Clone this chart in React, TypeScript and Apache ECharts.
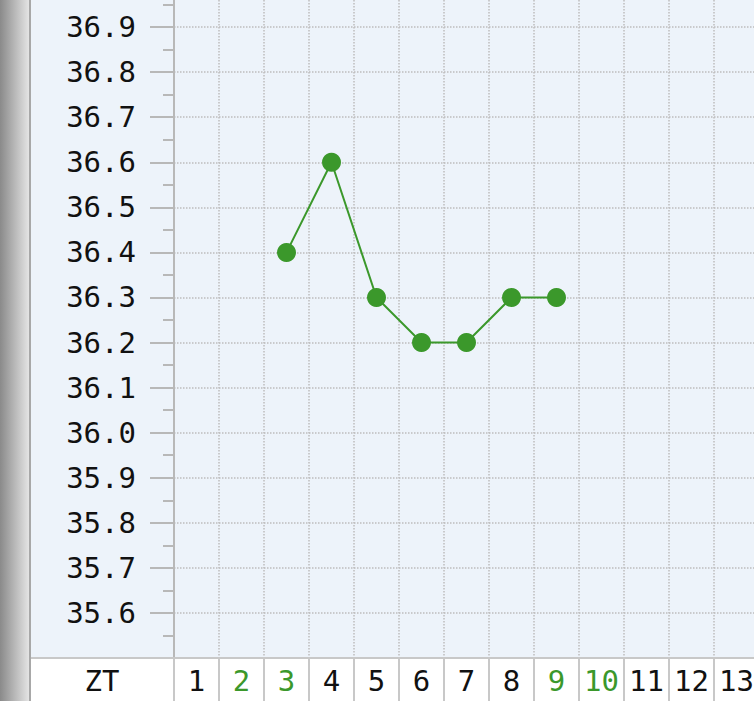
import React, { useEffect, useRef } from "react";
import * as echarts from "echarts";

const days = ["1", "2", "3", "4", "5", "6", "7", "8", "9", "10", "11", "12", "13", "14"];
const greenDays = ["2", "3", "9", "10"];
const temps: (number | null)[] = [null, null, 36.4, 36.6, 36.3, 36.2, 36.2, 36.3, 36.3, null, null, null, null, null];
const rowLabel = "ZT";

const FONT = "'DejaVu Sans Mono', monospace";
const GREEN = "#3b982b";
const OFF = 18; // chart canvas starts 18px above the page

export default function App() {
  const ref = useRef<HTMLDivElement>(null);
  useEffect(() => {
    if (!ref.current) return;
    const chart = echarts.init(ref.current, undefined, { renderer: "svg" });
    chart.setOption({
      animation: false,
      backgroundColor: "#edf3fa",
      grid: { left: 174, top: 0, width: 630, height: 676, containLabel: false },
      xAxis: {
        type: "category",
        data: days,
        boundaryGap: true,
        axisLine: { show: true, lineStyle: { color: "#c8c8c8", width: 2 } },
        axisTick: { show: true, length: 43, interval: 0, lineStyle: { color: "#c8c8c8", width: 2 } },
        axisLabel: {
          interval: 0,
          margin: 8,
          fontFamily: FONT,
          fontSize: 29,
          lineHeight: 30,
          color: (v: string) => (greenDays.includes(v) ? GREEN : "#111"),
        },
        splitLine: { show: true, interval: 0, lineStyle: { type: "dotted", color: "#bdbdbd", width: 1.5 } },
      },
      yAxis: {
        type: "value",
        min: 35.5,
        max: 37.0,
        interval: 0.1,
        axisLine: { show: true, lineStyle: { color: "#b8b8b8", width: 2 } },
        axisTick: { show: true, length: 24, lineStyle: { color: "#b8b8b8", width: 2 } },
        minorTick: { show: true, splitNumber: 2, length: 11, lineStyle: { color: "#b8b8b8", width: 2 } },
        axisLabel: {
          margin: 38,
          fontFamily: FONT,
          fontSize: 29,
          color: "#111",
          formatter: (v: number) => (v < 35.55 || v > 36.95 ? "" : v.toFixed(1)),
        },
        splitLine: { show: true, lineStyle: { type: "dotted", color: "#bdbdbd", width: 1.5 } },
      },
      series: [
        {
          type: "line",
          data: temps,
          connectNulls: false,
          symbol: "circle",
          symbolSize: 19,
          itemStyle: { color: GREEN },
          lineStyle: { color: GREEN, width: 2 },
          z: 5,
        },
      ],
      graphic: [
        {
          type: "rect",
          z: -1,
          shape: { x: 31, y: 658 + OFF, width: 800, height: 50 },
          style: { fill: "#ffffff" },
        },
        {
          type: "rect",
          z: 10,
          shape: { x: 0, y: 0, width: 29, height: 701 + OFF },
          style: {
            fill: new echarts.graphic.LinearGradient(0, 0, 1, 0, [
              { offset: 0, color: "#8a8a8a" },
              { offset: 1, color: "#e4e4e4" },
            ]),
          },
        },
        {
          type: "line",
          z: 10,
          shape: { x1: 30, y1: 0, x2: 30, y2: 701 + OFF },
          style: { stroke: "#a8a8a8", lineWidth: 2 },
        },
        {
          type: "line",
          z: 10,
          shape: { x1: 31, y1: 658 + OFF, x2: 174, y2: 658 + OFF },
          style: { stroke: "#c8c8c8", lineWidth: 2 },
        },
        {
          type: "text",
          z: 10,
          x: 102,
          y: 681 + OFF,
          style: {
            text: rowLabel,
            fontFamily: FONT,
            fontSize: 29,
            fill: "#111",
            align: "center",
            verticalAlign: "middle",
          },
        },
      ],
    });
    return () => chart.dispose();
  }, []);
  return (
    <div style={{ position: "fixed", left: 0, top: 0, width: 754, height: 701, overflow: "hidden" }}>
      <div
        ref={ref}
        style={{ position: "absolute", left: 0, top: -OFF, width: 810, height: 701 + OFF }}
      />
    </div>
  );
}
